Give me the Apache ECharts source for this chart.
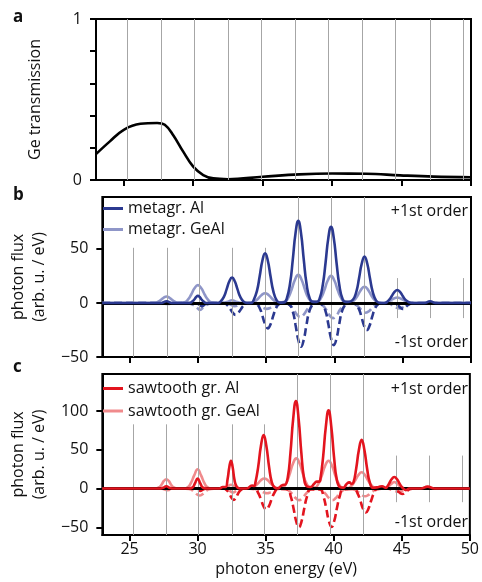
<!DOCTYPE html>
<html>
<head>
<meta charset="utf-8">
<script src="https://cdn.jsdelivr.net/npm/echarts@6/dist/echarts.min.js"></script>
<style>
  html, body { margin: 0; padding: 0; background: #fff; }
  #chart { width: 482px; height: 582px; }
</style>
</head>
<body>
<div id="chart"></div>
<script>
// tick labels
const energyTicks = [25, 30, 35, 40, 45, 50];
const transTicks = [0, 0.2, 0.4, 0.6, 0.8, 1];
const transLabels = [0, 1];
const fluxTicksB = [-50, 0, 50];
const fluxTicksC = [-50, 0, 50, 100];

// harmonic positions (gray guide lines) and their vertical extent per panel
const harmonics = [25.27, 27.72, 30.07, 32.52, 34.92, 37.35, 39.75, 42.17, 44.57, 47.05, 49.45];
const guideLoB = [-50, -50, -50, -50, -50, -50, -50, -50, -14, -14, -14];
const guideHiB = [51, 51, 51, 51, 51, 98, 98, 98, 23, 23, 23];
const guideLoC = [-60, -60, -60, -60, -60, -60, -60, -60, -17.6, -17.6, -17.6];
const guideHiC = [83, 83, 83, 83, 83, 148, 148, 148, 42.6, 42.6, 42.6];

// panel a: Ge filter transmission
const geTransmission = [[23, 0.161], [24, 0.24], [25, 0.312], [26.2, 0.349], [27.4, 0.354], [27.95, 0.343],
  [28.55, 0.28], [29.28, 0.176], [30.0, 0.083], [30.72, 0.031], [31.44, 0.01], [32.5, 0.005], [35, 0.02],
  [37.65, 0.035], [40, 0.04], [42.45, 0.039], [44.9, 0.029], [47.3, 0.021], [50, 0.017]];

// panel b: metagrating, +1st order (solid) and -1st order (dashed)
const metaAlPos = [[23, 0], [27.3, 0], [27.7, 1.5], [28.1, 0],
  [29.4, 0], [29.6, 1.5], [29.75, 3.4], [29.87, 5.5], [30.0, 6.5], [30.13, 5.5], [30.25, 3.4], [30.4, 1.5], [30.6, 0],
  [31.5, 0], [31.65, 1.2], [31.9, 5.6], [32.1, 12.5], [32.3, 20], [32.5, 23.5], [32.7, 20], [32.9, 12.5], [33.1, 5.6], [33.35, 1.2], [33.6, 0],
  [33.9, 0], [34.07, 2.3], [34.32, 11], [34.52, 24.4], [34.72, 39], [34.92, 46], [35.12, 39], [35.32, 24.4], [35.52, 11], [35.77, 2.3], [36.0, 0.3],
  [36.3, 0.5], [36.5, 3.8], [36.75, 18.2], [36.95, 40.3], [37.15, 64.6], [37.35, 76], [37.55, 64.6], [37.75, 40.3], [37.95, 18.2], [38.2, 3.8], [38.45, 1],
  [38.7, 1], [38.9, 3.5], [39.15, 17], [39.35, 37.4], [39.55, 60], [39.75, 70.5], [39.95, 60], [40.15, 37.4], [40.35, 17], [40.6, 3.5], [40.85, 1],
  [41.0, 1], [41.35, 3], [41.6, 10.3], [41.8, 22.8], [42.0, 36.5], [42.2, 43], [42.4, 36.5], [42.6, 22.8], [42.8, 10.3], [43.05, 2.2], [43.3, 0],
  [43.7, 0], [44.0, 2.9], [44.2, 6.4], [44.4, 10.2], [44.6, 12], [44.8, 10.2], [45.0, 6.4], [45.2, 2.9], [45.45, 0.6], [45.7, 0],
  [46.6, 0], [47.0, 1.5], [47.4, 0], [50, 0]];
const metaGePos = [[23, 0], [26.9, 0], [27.1, 1.2], [27.3, 3], [27.5, 5], [27.7, 6], [27.9, 5], [28.1, 3], [28.3, 1.2], [28.5, 0],
  [29.0, 0.5], [29.25, 2.8], [29.5, 7.6], [29.75, 13.5], [30.0, 16.5], [30.25, 13.5], [30.5, 7.6], [30.75, 2.8], [31.0, 0.5],
  [31.8, 0], [32.2, 1.2], [32.5, 2.5], [32.8, 1.2], [33.2, 0],
  [33.9, 0.4], [34.17, 1.5], [34.42, 4.1], [34.67, 7.4], [34.92, 9], [35.17, 7.4], [35.42, 4.1], [35.67, 1.5], [35.92, 0.4],
  [36.35, 1], [36.6, 4.4], [36.85, 12], [37.1, 21.3], [37.35, 26], [37.6, 21.3], [37.85, 12], [38.1, 4.4], [38.35, 1.5],
  [38.75, 1], [39.0, 4.3], [39.25, 11.5], [39.5, 20.5], [39.75, 25], [40.0, 20.5], [40.25, 11.5], [40.5, 4.3], [40.75, 1],
  [41.2, 0.6], [41.45, 2.6], [41.7, 6.9], [41.95, 12.3], [42.2, 15], [42.45, 12.3], [42.7, 6.9], [42.95, 2.6], [43.2, 0.6],
  [43.6, 0], [43.85, 0.9], [44.1, 2.3], [44.35, 4.1], [44.6, 5], [44.85, 4.1], [45.1, 2.3], [45.35, 0.9], [45.6, 0], [50, 0]];
const metaAlNeg = [[23, 0], [29.5, 0], [29.9, -0.6], [30.1, -1.5], [30.3, -3], [30.5, -1.5], [30.7, -0.6], [31.1, 0],
  [31.9, 0], [32.16, -2.2], [32.36, -5.5], [32.56, -9.2], [32.76, -11], [32.96, -9.2], [33.16, -5.5], [33.36, -2.2], [33.6, -0.4], [33.9, 0],
  [34.27, -0.9], [34.52, -4.7], [34.72, -11.8], [34.92, -19.7], [35.12, -23.5], [35.32, -19.7], [35.52, -11.8], [35.72, -4.7], [35.97, -0.9], [36.3, 0],
  [36.7, -1.6], [36.95, -8.1], [37.15, -20.3], [37.35, -34], [37.55, -40.5], [37.75, -34], [37.95, -20.3], [38.15, -8.1], [38.4, -1.6], [38.7, 0],
  [39.1, -1.6], [39.35, -7.8], [39.55, -19.5], [39.75, -32.8], [39.95, -39], [40.15, -32.8], [40.35, -19.5], [40.55, -7.8], [40.8, -1.6], [41.1, 0],
  [41.52, -1], [41.77, -5], [41.97, -12.5], [42.17, -21], [42.37, -25], [42.57, -21], [42.77, -12.5], [42.97, -5], [43.22, -1], [43.5, 0],
  [44.3, 0], [44.5, -1.1], [44.7, -2.8], [44.85, -4.6], [45.0, -5.5], [45.15, -4.6], [45.3, -2.8], [45.5, -1.1], [45.7, 0], [50, 0]];
const metaGeNeg = [[23, 0], [27.3, 0], [27.8, -1], [28.3, 0],
  [29.2, 0], [29.4, -0.5], [29.65, -1.8], [29.9, -4], [30.15, -6.5], [30.4, -4], [30.65, -1.8], [30.9, -0.5], [31.2, 0],
  [32.0, 0], [32.35, -1.4], [32.7, -3], [33.05, -1.4], [33.4, 0],
  [34.1, 0], [34.3, -0.9], [34.55, -2.5], [34.8, -4.5], [35.05, -5.5], [35.3, -4.5], [35.55, -2.5], [35.8, -0.9], [36.05, -0.2],
  [36.5, -0.5], [36.75, -2.2], [37.0, -6], [37.25, -10.7], [37.5, -13], [37.75, -10.7], [38.0, -6], [38.25, -2.2], [38.5, -0.5],
  [38.9, -0.6], [39.15, -2.4], [39.4, -6.4], [39.65, -11.5], [39.9, -14], [40.15, -11.5], [40.4, -6.4], [40.65, -2.4], [40.9, -0.6],
  [41.3, -0.4], [41.55, -1.5], [41.8, -4.1], [42.05, -7.4], [42.3, -9], [42.55, -7.4], [42.8, -4.1], [43.05, -1.5], [43.3, -0.4],
  [43.9, 0], [44.25, -2.3], [44.5, -4.1], [44.75, -5], [45.0, -4.1], [45.25, -2.3], [45.6, 0], [50, 0]];

// panel c: sawtooth grating, +1st order (solid) and -1st order (dashed)
const sawAlPos = [[23, 0], [27.2, 0], [27.45, 1], [27.7, 3], [27.95, 1], [28.2, 0],
  [29.3, 0], [29.6, 1], [29.8, 6.5], [30.0, 13], [30.2, 6.5], [30.4, 1], [30.7, 0],
  [31.6, 0], [31.85, 2], [32.05, 2], [32.2, 12], [32.33, 28], [32.45, 36], [32.57, 28], [32.7, 12], [32.85, 3], [33.1, 0],
  [33.6, 0], [34.0, 4], [34.15, 3.5], [34.25, 8], [34.45, 28], [34.65, 55], [34.85, 69], [35.05, 55], [35.25, 28], [35.45, 8], [35.65, 1.5], [35.9, 0],
  [36.1, 3], [36.35, 5], [36.42, 5], [36.62, 14], [36.82, 46], [37.02, 90], [37.22, 113], [37.42, 90], [37.62, 46], [37.82, 13], [38.02, 3], [38.3, 2],
  [38.55, 6], [38.75, 9], [38.95, 9], [39.02, 12], [39.22, 41], [39.42, 80], [39.62, 101], [39.82, 80], [40.02, 41], [40.22, 12], [40.45, 2], [40.7, 1],
  [40.95, 6], [41.15, 8], [41.3, 6], [41.45, 8], [41.65, 26], [41.85, 50], [42.05, 63], [42.25, 50], [42.45, 26], [42.65, 8], [42.9, 1],
  [43.3, 2], [43.55, 3], [43.8, 1], [44.05, 6], [44.25, 12], [44.45, 15], [44.65, 12], [44.85, 6], [45.05, 1], [45.3, -2], [45.55, 0],
  [46.4, 0], [46.9, 2.5], [47.4, 0], [50, 0]];
const sawGePos = [[23, 0], [26.9, 0], [27.15, 1.5], [27.35, 5], [27.52, 9.8], [27.7, 12], [27.88, 9.8], [28.05, 5], [28.25, 1.5], [28.5, 0],
  [29.0, 0], [29.3, 2], [29.5, 7], [29.75, 17], [30.0, 25], [30.25, 17], [30.5, 7], [30.7, 2], [31.0, 0],
  [31.9, 0], [32.2, 2.5], [32.45, 5], [32.7, 2.5], [33.0, 0],
  [33.9, 0.5], [34.15, 2.2], [34.4, 6], [34.65, 10.7], [34.9, 13], [35.15, 10.7], [35.4, 6], [35.65, 2.2], [35.9, 0.5],
  [36.25, 1.6], [36.5, 6.6], [36.75, 18], [37.0, 32], [37.25, 39], [37.5, 32], [37.75, 18], [38.0, 6.6], [38.25, 1.6],
  [38.62, 1.4], [38.87, 6.1], [39.12, 16.6], [39.37, 29.5], [39.62, 36], [39.87, 29.5], [40.12, 16.6], [40.37, 6.1], [40.62, 1.4],
  [41.05, 0.8], [41.3, 3.6], [41.55, 9.7], [41.8, 17.2], [42.05, 21], [42.3, 17.2], [42.55, 9.7], [42.8, 3.6], [43.05, 0.8],
  [43.6, 0], [43.95, 2], [44.2, 5.5], [44.45, 8.5], [44.7, 5.5], [44.95, 2], [45.3, 0],
  [46.4, 0], [46.9, 2], [47.4, 0], [50, 0]];
const sawAlNeg = [[23, 0], [29.7, 0], [30.0, -1.2], [30.2, -3], [30.4, -1.2], [30.7, 0],
  [31.9, 0], [32.15, -2.3], [32.35, -7.3], [32.5, -12.3], [32.65, -14.6], [32.8, -12.3], [32.95, -7.3], [33.15, -2.3], [33.45, 0],
  [34.2, -0.5], [34.44, -5.4], [34.64, -13.5], [34.84, -22.7], [35.04, -27], [35.24, -22.7], [35.44, -13.5], [35.64, -5.4], [35.9, -0.5],
  [36.6, -1], [36.84, -10], [37.04, -25], [37.24, -42], [37.44, -50], [37.64, -42], [37.84, -25], [38.04, -10], [38.3, -1],
  [39.0, -1], [39.24, -9.9], [39.44, -24.8], [39.64, -41.6], [39.84, -49.5], [40.04, -41.6], [40.24, -24.8], [40.44, -9.9], [40.7, -1],
  [41.5, -0.6], [41.75, -6.2], [41.95, -15.5], [42.15, -26], [42.35, -31], [42.55, -26], [42.75, -15.5], [42.95, -6.2], [43.2, -0.6],
  [44.3, 0], [44.55, -1.5], [44.75, -4], [44.9, -6.2], [45.05, -7], [45.2, -6], [45.4, -3], [45.65, -0.5], [45.9, 0], [50, 0]];
const sawGeNeg = [[23, 0], [27.3, 0], [27.8, -2], [28.3, 0],
  [29.35, -0.4], [29.55, -1.5], [29.75, -4], [29.95, -7.4], [30.15, -9], [30.35, -7.4], [30.55, -4], [30.75, -1.5], [31.0, -0.4],
  [32.0, 0], [32.3, -2.3], [32.6, -5], [32.9, -2.3], [33.2, 0],
  [34.1, -0.2], [34.35, -1], [34.6, -2.8], [34.85, -4.9], [35.1, -6], [35.35, -4.9], [35.6, -2.8], [35.85, -1], [36.1, -0.2],
  [36.45, -0.6], [36.7, -2.6], [36.95, -6.9], [37.2, -12.3], [37.45, -15], [37.7, -12.3], [37.95, -6.9], [38.2, -2.6], [38.45, -0.6],
  [38.9, -0.6], [39.15, -2.6], [39.4, -6.9], [39.65, -12.3], [39.9, -15], [40.15, -12.3], [40.4, -6.9], [40.65, -2.6], [40.9, -0.6],
  [41.3, -0.4], [41.55, -1.7], [41.8, -4.6], [42.05, -8.2], [42.3, -10], [42.55, -8.2], [42.8, -4.6], [43.05, -1.7], [43.3, -0.4],
  [43.9, 0], [44.25, -1.8], [44.5, -3.3], [44.75, -4], [45.0, -3.3], [45.25, -1.8], [45.6, 0], [50, 0]];

const FONT = '"Open Sans", "Noto Sans", sans-serif';
const C_BLUE = '#2b3990';
const C_BLUE_LIGHT = '#8f96c8';
const C_RED = '#e3141e';
const C_RED_LIGHT = '#f08a8c';

const chart = echarts.init(document.getElementById('chart'), null, { renderer: 'canvas' });

const grids = [
  { left: 96, right: 11, top: 19, height: 161 },
  { left: 96, right: 11, top: 197, height: 160 },
  { left: 96, right: 11, top: 374, height: 161 }
].map(g => Object.assign(g, { show: true, borderColor: '#000', borderWidth: 2, backgroundColor: 'transparent' }));

const minus = v => String(v).replace('-', '\u2212');

function xAxisFor(i, showLabels) {
  return {
    type: 'value', gridIndex: i, min: 23, max: 50,
    splitLine: { show: false },
    axisLine: { onZero: false, lineStyle: { color: '#000', width: 2 } },
    axisTick: { customValues: energyTicks, length: 6, lineStyle: { color: '#000', width: 2 } },
    axisLabel: showLabels
      ? { customValues: energyTicks, color: '#111', fontFamily: FONT, fontSize: 16, margin: 6 }
      : { show: false },
    name: showLabels ? 'photon energy (eV)' : '',
    nameLocation: 'middle', nameGap: 26,
    nameTextStyle: { color: '#111', fontFamily: FONT, fontSize: 16 }
  };
}

function yAxisFor(i, min, max, ticks, labels, name, gap) {
  return {
    type: 'value', gridIndex: i, min: min, max: max,
    splitLine: { show: false },
    axisLine: { lineStyle: { color: '#000', width: 2 } },
    axisTick: { customValues: ticks, length: 6, lineStyle: { color: '#000', width: 2 } },
    axisLabel: { customValues: labels, color: '#111', fontFamily: FONT, fontSize: 16, margin: 14, formatter: minus },
    name: name, nameLocation: 'middle', nameRotate: 90, nameGap: gap,
    nameTextStyle: { color: '#111', fontFamily: FONT, fontSize: 16, lineHeight: 21 }
  };
}

function curve(name, data, color, i, dashed, z, smooth) {
  return {
    name: name, type: 'line', xAxisIndex: i, yAxisIndex: i, data: data,
    smooth: smooth || 0.5, showSymbol: false, symbol: 'none', z: z,
    lineStyle: { color: color, width: 2.6, type: dashed ? [8, 4] : 'solid' },
    itemStyle: { color: color }
  };
}

function guides(i, lo, hi) {
  return {
    type: 'line', xAxisIndex: i, yAxisIndex: i, data: [], z: 1, silent: true,
    markLine: {
      silent: true, symbol: 'none', label: { show: false }, animation: false,
      lineStyle: { color: '#a6a6a6', width: 1, type: 'solid' },
      data: harmonics.map((e, k) => [{ coord: [e, lo[k]] }, { coord: [e, hi[k]] }])
    }
  };
}

function zeroLine(i) {
  return {
    type: 'line', xAxisIndex: i, yAxisIndex: i, data: [], z: 10, silent: true,
    markLine: {
      silent: true, symbol: 'none', label: { show: false }, animation: false,
      lineStyle: { color: '#000', width: 2.8, type: 'solid' },
      data: [{ yAxis: 0 }]
    }
  };
}

function legendFor(names, top, gap) {
  return {
    data: names, orient: 'vertical', left: 103, top: top, padding: 0,
    itemWidth: 20, itemHeight: 3, itemGap: gap, icon: 'rect',
    textStyle: { color: '#111', fontFamily: FONT, fontSize: 16, lineHeight: 21 },
    selectedMode: false
  };
}

function label(text, x, y, align, bold) {
  return {
    type: 'text', x: x, y: y, silent: true,
    style: {
      text: text, fill: '#111',
      font: (bold ? 'bold 17px ' : '16px ') + FONT,
      textAlign: align, textVerticalAlign: 'middle',
      align: align, verticalAlign: 'middle'
    }
  };
}

const option = {
  animation: false,
  backgroundColor: '#fff',
  grid: grids,
  xAxis: [xAxisFor(0, false), xAxisFor(1, false), xAxisFor(2, true)],
  yAxis: [
    yAxisFor(0, 0, 1, transTicks, transLabels, 'Ge transmission', 50),
    yAxisFor(1, -50, 98, fluxTicksB, fluxTicksB, 'photon flux\n(arb. u. / eV)', 47),
    yAxisFor(2, -60, 148, fluxTicksC, fluxTicksC, 'photon flux\n(arb. u. / eV)', 47)
  ],
  legend: [
    legendFor(['metagr. Al', 'metagr. GeAl'], 198, 0),
    legendFor(['sawtooth gr. Al', 'sawtooth gr. GeAl'], 378, 1.5)
  ],
  graphic: [
    label('a', 13, 17, 'left', true),
    label('b', 13, 195, 'left', true),
    label('c', 13, 367, 'left', true),
    label('+1st order', 468, 211, 'right'),
    label('-1st order', 468, 342, 'right'),
    label('+1st order', 468, 389, 'right'),
    label('-1st order', 468, 522, 'right')
  ],
  series: [
    guides(0, harmonics.map(() => 0), harmonics.map(() => 1)),
    curve('Ge transmission', geTransmission, '#000', 0, false, 3, 0.4),

    guides(1, guideLoB, guideHiB),
    curve('metagr. GeAl -1', metaGeNeg, C_BLUE_LIGHT, 1, true, 2),
    curve('metagr. Al -1', metaAlNeg, C_BLUE, 1, true, 3),
    curve('metagr. GeAl', metaGePos, C_BLUE_LIGHT, 1, false, 4),
    curve('metagr. Al', metaAlPos, C_BLUE, 1, false, 5),
    zeroLine(1),

    guides(2, guideLoC, guideHiC),
    curve('sawtooth gr. GeAl -1', sawGeNeg, C_RED_LIGHT, 2, true, 2),
    curve('sawtooth gr. Al -1', sawAlNeg, C_RED, 2, true, 3),
    curve('sawtooth gr. GeAl', sawGePos, C_RED_LIGHT, 2, false, 4),
    curve('sawtooth gr. Al', sawAlPos, C_RED, 2, false, 5),
    zeroLine(2)
  ]
};

chart.setOption(option);
</script>
</body>
</html>
